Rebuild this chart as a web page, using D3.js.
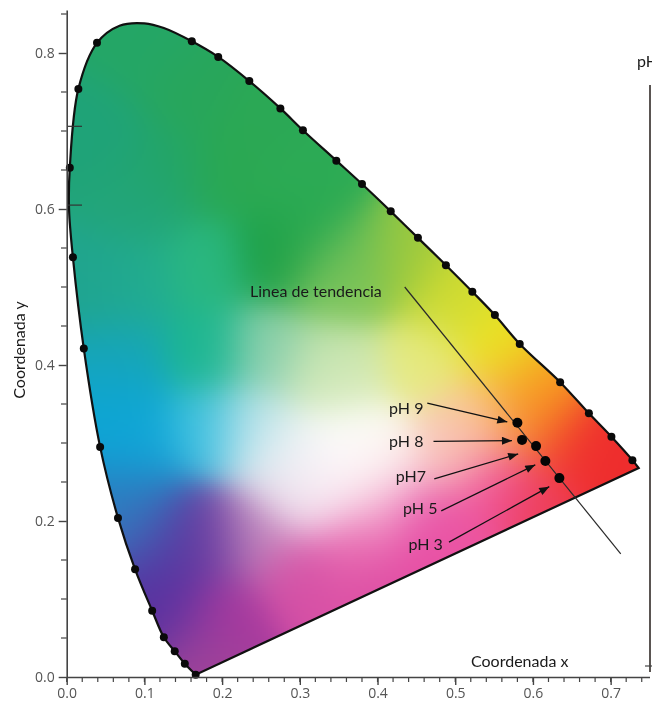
<!DOCTYPE html>
<html lang="es">
<head>
    <meta charset="UTF-8">
    <title>Diagrama de cromaticidad</title>
    <script src="https://cdn.jsdelivr.net/npm/d3@7/dist/d3.min.js"></script>
    <style>
        html, body { margin: 0; padding: 0; background: #fff; overflow: hidden; }
        canvas, svg { position: absolute; left: 0; top: 0; }
        svg { filter: blur(0.35px); }
        .tick text { font-family: "Open Sans", sans-serif; font-size: 14px; fill: #555; }
        .label { font-family: Lato, sans-serif; font-size: 16px; fill: #1a1a1a; }
    </style>
</head>
<body>
<canvas id="fill" width="652" height="705"></canvas>
<svg id="chart" width="652" height="705"></svg>
<script>
    // contorno del diagrama (locus + linea de purpuras)
    var locusX = [0.166, 0.152, 0.139, 0.125, 0.110, 0.088, 0.066, 0.043, 0.022, 0.008, 0.003, 0.004, 0.015, 0.039, 0.068, 0.100, 0.125, 0.161, 0.195, 0.235, 0.275, 0.304, 0.347, 0.380, 0.417, 0.452, 0.488, 0.522, 0.551, 0.583, 0.635, 0.672, 0.701, 0.728, 0.736];
    var locusY = [0.003, 0.017, 0.033, 0.051, 0.085, 0.138, 0.204, 0.295, 0.421, 0.538, 0.600, 0.653, 0.754, 0.813, 0.835, 0.838, 0.832, 0.815, 0.795, 0.764, 0.729, 0.701, 0.662, 0.632, 0.597, 0.563, 0.528, 0.494, 0.464, 0.427, 0.378, 0.338, 0.308, 0.278, 0.268];

    // puntos negros sobre el contorno
    var dotX = [0.166, 0.152, 0.139, 0.125, 0.110, 0.088, 0.066, 0.043, 0.022, 0.008, 0.004, 0.015, 0.039, 0.161, 0.195, 0.235, 0.275, 0.304, 0.347, 0.380, 0.417, 0.452, 0.488, 0.522, 0.551, 0.583, 0.635, 0.672, 0.701, 0.728];
    var dotY = [0.003, 0.017, 0.033, 0.051, 0.085, 0.138, 0.204, 0.295, 0.421, 0.538, 0.653, 0.754, 0.813, 0.815, 0.795, 0.764, 0.729, 0.701, 0.662, 0.632, 0.597, 0.563, 0.528, 0.494, 0.464, 0.427, 0.378, 0.338, 0.308, 0.278];

    // muestras de color
    var colorX = [0.100, 0.050, 0.150, 0.200, 0.090, 0.047, 0.069, 0.069, 0.090, 0.081, 0.142, 0.175, 0.240, 0.369, 0.304, 0.348, 0.284, 0.175, 0.240, 0.175, 0.262, 0.348, 0.271, 0.175, 0.090, 0.348, 0.313, 0.365, 0.429, 0.493, 0.558, 0.451, 0.343, 0.600, 0.650, 0.700, 0.600, 0.530, 0.490, 0.550, 0.600, 0.450, 0.300, 0.200, 0.170, 0.130, 0.110, 0.400, 0.400, 0.300, 0.250, 0.130, 0.090, 0.370, 0.330, 0.400, 0.470, 0.510];
    var colorY = [0.800, 0.700, 0.750, 0.650, 0.600, 0.505, 0.419, 0.355, 0.291, 0.227, 0.176, 0.176, 0.185, 0.172, 0.240, 0.282, 0.282, 0.317, 0.317, 0.419, 0.419, 0.377, 0.538, 0.526, 0.505, 0.505, 0.573, 0.530, 0.531, 0.487, 0.423, 0.403, 0.403, 0.372, 0.300, 0.280, 0.330, 0.330, 0.290, 0.250, 0.220, 0.200, 0.130, 0.080, 0.020, 0.080, 0.130, 0.280, 0.230, 0.630, 0.700, 0.650, 0.190, 0.300, 0.250, 0.100, 0.130, 0.180];
    var colorHex = ["#24a666", "#1fa378", "#28a65a", "#2aa850", "#22a57a", "#1fa38e", "#17a5b5", "#0ea5d2", "#0ea5d8", "#2a7cc0", "#50309f", "#7340a0", "#c088bd", "#e865ae", "#f0e0ee", "#ffffff", "#e6f1f4", "#38bfe0", "#c0e4ea", "#1bb690", "#8ed0ad", "#dcecbe", "#1c9e45", "#2ab880", "#22ae90", "#88c85a", "#25a850", "#66bd5b", "#9dc93c", "#d2dc30", "#ebe422", "#e6ea80", "#c0e2ac", "#f8a020", "#ef3030", "#ee2c2c", "#f68a20", "#fac89a", "#f8c8c0", "#ef55a0", "#ee3c55", "#e650a8", "#d650a5", "#a8389e", "#a04498", "#5832a0", "#5832a0", "#fbf6ee", "#f6c0d8", "#2dab55", "#2ba855", "#22a56a", "#3a78bd", "#ffffff", "#fbeef4", "#dc4fa4", "#e84fa4", "#ec56a2"];

    // puntos de pH
    var phX = [0.580, 0.586, 0.604, 0.616, 0.634];
    var phY = [0.326, 0.304, 0.296, 0.277, 0.255];
    var phLabels = ["pH 9", "pH 8", "pH7", "pH 5", "pH 3"];
    var labelX = [0.437, 0.437, 0.443, 0.455, 0.462];
    var labelY = [0.345, 0.302, 0.257, 0.216, 0.170];
    var arrowStartX = [0.464, 0.472, 0.473, 0.482, 0.492];
    var arrowStartY = [0.351, 0.302, 0.254, 0.213, 0.173];
    var arrowEndX = [0.567, 0.573, 0.581, 0.603, 0.621];
    var arrowEndY = [0.327, 0.303, 0.286, 0.272, 0.244];

    // linea de tendencia
    var trendX = [0.435, 0.713];
    var trendY = [0.500, 0.158];

    var xMajor = [0, 0.1, 0.2, 0.3, 0.4, 0.5, 0.6, 0.7];
    var xMinor = d3.range(0, 0.75, 0.02);
    var yMajor = [0, 0.2, 0.4, 0.6, 0.8];
    var yMinor = [0.05, 0.1, 0.15, 0.25, 0.3, 0.35, 0.45, 0.5, 0.55, 0.65, 0.7, 0.75, 0.85];
    var innerTicks = [0.706, 0.605];

    var x = d3.scaleLinear().domain([0, 0.75]).range([66.7, 649.5]);
    var y = d3.scaleLinear().domain([0, 0.855]).range([677, 10.1]);

    var outline = d3.range(locusX.length).map(function (i) { return [x(locusX[i]), y(locusY[i])]; });
    var line = d3.line().curve(d3.curveCatmullRom.alpha(0.5));

    // relleno: media ponderada gaussiana de las muestras
    var samples = colorHex.map(function (c, i) {
        var rgb = d3.rgb(c);
        return { px: x(colorX[i]), py: y(colorY[i]), r: rgb.r, g: rgb.g, b: rgb.b };
    });

    var sigma = 30;
    var ctx = document.getElementById("fill").getContext("2d");
    ctx.save();
    ctx.beginPath();
    line.context(ctx)(outline);
    ctx.closePath();
    ctx.clip();
    var cell = 2;
    for (var cx = 60; cx < 650; cx += cell) {
        for (var cy = 10; cy < 680; cy += cell) {
            var sw = 1e-30, sr = 0, sg = 0, sb = 0;
            samples.forEach(function (s) {
                var d2 = (s.px - cx) * (s.px - cx) + (s.py - cy) * (s.py - cy);
                var w = Math.exp(-d2 / (2 * sigma * sigma));
                sw += w; sr += w * s.r; sg += w * s.g; sb += w * s.b;
            });
            ctx.fillStyle = "rgb(" + Math.round(sr / sw) + "," + Math.round(sg / sw) + "," + Math.round(sb / sw) + ")";
            ctx.fillRect(cx, cy, cell, cell);
        }
    }
    ctx.restore();
    line.context(null);

    var svg = d3.select("#chart");

    svg.append("defs").append("marker")
            .attr("id", "head")
            .attr("viewBox", "0 0 10 8")
            .attr("refX", 10)
            .attr("refY", 4)
            .attr("markerUnits", "userSpaceOnUse")
            .attr("markerWidth", 11)
            .attr("markerHeight", 8)
            .attr("orient", "auto")
            .append("path")
            .attr("d", "M0,0L10,4L0,8Z")
            .attr("fill", "#111");

    // contorno
    svg.append("path")
            .attr("d", line(outline) + "Z")
            .attr("fill", "none")
            .attr("stroke", "#111")
            .attr("stroke-width", 2.2);

    svg.selectAll("circle.locus")
            .data(dotX)
            .enter()
            .append("circle")
            .attr("class", "locus")
            .attr("cx", function (d) { return x(d); })
            .attr("cy", function (d, i) { return y(dotY[i]); })
            .attr("r", 4)
            .attr("fill", "#0a0a0a");

    // ejes
    var axisColor = "#444";
    var gx = svg.append("g")
            .attr("transform", "translate(0,677)")
            .call(d3.axisBottom(x).tickValues(xMajor).tickFormat(d3.format(".1f")).tickSize(8).tickSizeOuter(0).tickPadding(3));
    var gy = svg.append("g")
            .attr("transform", "translate(66.7,0)")
            .call(d3.axisLeft(y).tickValues(yMajor).tickFormat(d3.format(".1f")).tickSize(8).tickSizeOuter(0).tickPadding(4));
    svg.selectAll(".domain").attr("stroke", axisColor).attr("stroke-width", 1.6);
    svg.selectAll(".tick line").attr("stroke", axisColor).attr("stroke-width", 1.4);

    svg.selectAll("line.xminor")
            .data(xMinor)
            .enter()
            .append("line")
            .attr("class", "xminor")
            .attr("x1", function (d) { return x(d); })
            .attr("x2", function (d) { return x(d); })
            .attr("y1", 677)
            .attr("y2", 682)
            .attr("stroke", axisColor)
            .attr("stroke-width", 1.2);

    svg.selectAll("line.yminor")
            .data(yMinor)
            .enter()
            .append("line")
            .attr("class", "yminor")
            .attr("x1", 61)
            .attr("x2", 66.7)
            .attr("y1", function (d) { return y(d); })
            .attr("y2", function (d) { return y(d); })
            .attr("stroke", axisColor)
            .attr("stroke-width", 1.2);

    svg.selectAll("line.inner")
            .data(innerTicks)
            .enter()
            .append("line")
            .attr("class", "inner")
            .attr("x1", 68)
            .attr("x2", 82)
            .attr("y1", function (d) { return y(d); })
            .attr("y2", function (d) { return y(d); })
            .attr("stroke", "#333")
            .attr("stroke-width", 1.2);

    // eje derecho cortado del panel original
    svg.append("line")
            .attr("x1", 650).attr("x2", 650)
            .attr("y1", 85).attr("y2", 672)
            .attr("stroke", "#5a5552")
            .attr("stroke-width", 2);
    svg.append("line")
            .attr("x1", 645).attr("x2", 652)
            .attr("y1", 666).attr("y2", 666)
            .attr("stroke", "#444")
            .attr("stroke-width", 1.2);

    // linea de tendencia
    svg.append("line")
            .attr("x1", x(trendX[0]))
            .attr("y1", y(trendY[0]))
            .attr("x2", x(trendX[1]))
            .attr("y2", y(trendY[1]))
            .attr("stroke", "#2a2a2a")
            .attr("stroke-width", 1.2);

    // flechas y puntos de pH
    svg.selectAll("line.arrow")
            .data(phLabels)
            .enter()
            .append("line")
            .attr("class", "arrow")
            .attr("x1", function (d, i) { return x(arrowStartX[i]); })
            .attr("y1", function (d, i) { return y(arrowStartY[i]); })
            .attr("x2", function (d, i) { return x(arrowEndX[i]); })
            .attr("y2", function (d, i) { return y(arrowEndY[i]); })
            .attr("stroke", "#111")
            .attr("stroke-width", 1.3)
            .attr("marker-end", "url(#head)");

    svg.selectAll("circle.ph")
            .data(phX)
            .enter()
            .append("circle")
            .attr("class", "ph")
            .attr("cx", function (d) { return x(d); })
            .attr("cy", function (d, i) { return y(phY[i]); })
            .attr("r", 5)
            .attr("fill", "#050505");

    svg.selectAll("text.phlabel")
            .data(phLabels)
            .enter()
            .append("text")
            .attr("class", "label phlabel")
            .attr("x", function (d, i) { return x(labelX[i]); })
            .attr("y", function (d, i) { return y(labelY[i]); })
            .attr("text-anchor", "middle")
            .attr("dy", "0.35em")
            .text(function (d) { return d; });

    svg.append("text").attr("class", "label").attr("x", 250).attr("y", 297).text("Linea de tendencia");
    svg.append("text").attr("class", "label").attr("x", 471).attr("y", 667).text("Coordenada x");
    svg.append("text").attr("class", "label").attr("x", 637).attr("y", 67).text("pH");
    svg.append("text")
            .attr("class", "label")
            .attr("transform", "translate(25,350) rotate(-90)")
            .attr("text-anchor", "middle")
            .text("Coordenada y");
</script>
</body>
</html>
